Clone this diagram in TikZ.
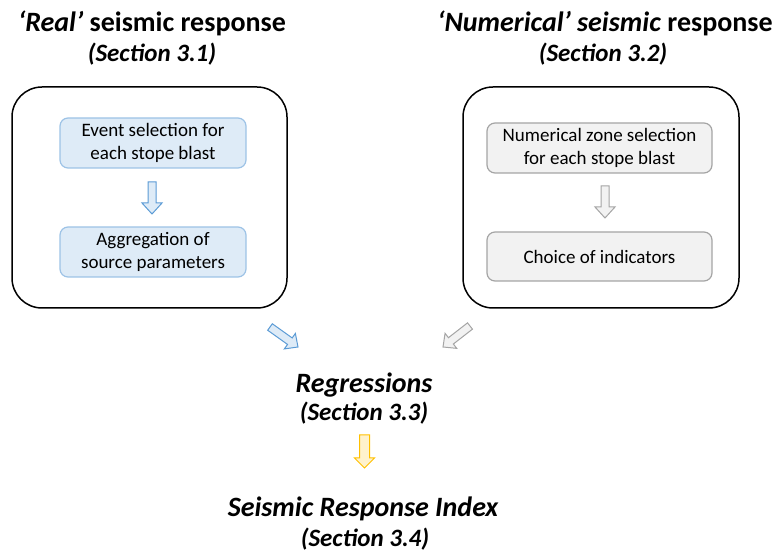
\documentclass[tikz,border=0pt]{standalone}
\usepackage{fontspec}
\setmainfont{Carlito}
\usetikzlibrary{calc}
\definecolor{bfill}{HTML}{DEEBF7}
\definecolor{bline}{HTML}{5B9BD5}
\definecolor{bbox}{HTML}{9DC3E6}
\definecolor{gfill}{HTML}{F2F2F2}
\definecolor{gline}{HTML}{A5A5A5}
\definecolor{yfill}{HTML}{FFF2CC}
\definecolor{yline}{HTML}{FFC000}
\newcommand\blockarr[6]{%
  \coordinate (hh) at ($(#3)!#6!(#2)$);
  \path[#1] ($(#2)!#4!90:(#3)$) -- ($(hh)!#4!90:(#3)$) -- ($(hh)!#5!90:(#3)$) -- (#3)
    -- ($(hh)!#5!-90:(#3)$) -- ($(hh)!#4!-90:(#3)$) -- ($(#2)!#4!-90:(#3)$) -- cycle;}
\begin{document}
\begin{tikzpicture}[x=1pt,y=-1pt,
  bigbox/.style={draw=black, line width=1.5pt, rounded corners=30pt},
  bluebox/.style={draw=bbox, fill=bfill, line width=1.2pt, rounded corners=8pt, align=center,
    font=\fontsize{19}{22.5}\selectfont, inner sep=0pt},
  graybox/.style={draw=gline, fill=gfill, line width=1.2pt, rounded corners=8pt, align=center,
    font=\fontsize{19}{22.5}\selectfont, inner sep=0pt},
  title/.style={anchor=base, inner sep=0pt, font=\fontsize{28}{30}\selectfont\bfseries},
  sect/.style={anchor=base, inner sep=0pt, font=\fontsize{25}{27}\selectfont\bfseries\itshape},
  barrow/.style={fill=bfill, draw=bline, line width=1pt, line join=miter},
  garrow/.style={fill=gfill, draw=gline, line width=1pt, line join=miter},
  yarrow/.style={fill=yfill, draw=yline, line width=1pt, line join=miter}]
\useasboundingbox (0,0) rectangle (780,553);

% titles
\node[title] (t1) at (152,32) {\textit{‘Real’} seismic response};
\node[sect] (s1) at (152,62) {(Section 3.1)};
\node[title] (t2) at (605,32) {\textit{‘Numerical’ seismic} response};
\node[sect] (s2) at (603,62) {(Section 3.2)};

% big boxes
\draw[bigbox] (12,87) rectangle (287,308);
\draw[bigbox] (463,87) rectangle (739,308);

% inner boxes
\node[bluebox, minimum width=186pt, minimum height=50pt] (b1) at (153,143) {Event selection for\\each stope blast};
\node[bluebox, minimum width=186pt, minimum height=50pt] (b2) at (153,252) {Aggregation of\\source parameters};
\node[graybox, minimum width=225pt, minimum height=50pt] (g1) at (599.5,148) {Numerical zone selection\\for each stope blast};
\node[graybox, minimum width=225pt, minimum height=49pt] (g2) at (599.5,256.5) {Choice of indicators};

% lower texts
\node[title, font=\fontsize{28}{30}\selectfont\bfseries\itshape] (r) at (364,393) {Regressions};
\node[sect] (s3) at (364,421) {(Section 3.3)};
\node[title, font=\fontsize{28}{30}\selectfont\bfseries\itshape] (sri) at (363,517) {Seismic Response Index};
\node[sect] (s4) at (365,547) {(Section 3.4)};

% arrows
\coordinate (a1s) at (152,182); \coordinate (a1e) at (152,214);
\blockarr{barrow}{a1s}{a1e}{4pt}{10pt}{11pt}
\coordinate (a2s) at (605,186); \coordinate (a2e) at (605,218);
\blockarr{garrow}{a2s}{a2e}{4pt}{10pt}{11pt}
\coordinate (a3s) at (270,327); \coordinate (a3e) at (298,347);
\blockarr{barrow}{a3s}{a3e}{4pt}{9.5pt}{10pt}
\coordinate (a4s) at (470,326); \coordinate (a4e) at (443,347);
\blockarr{garrow}{a4s}{a4e}{4pt}{9.5pt}{10pt}
\coordinate (a5s) at (364.5,435); \coordinate (a5e) at (364.5,468);
\blockarr{yarrow}{a5s}{a5e}{5pt}{10pt}{10pt}
\end{tikzpicture}
\end{document}
